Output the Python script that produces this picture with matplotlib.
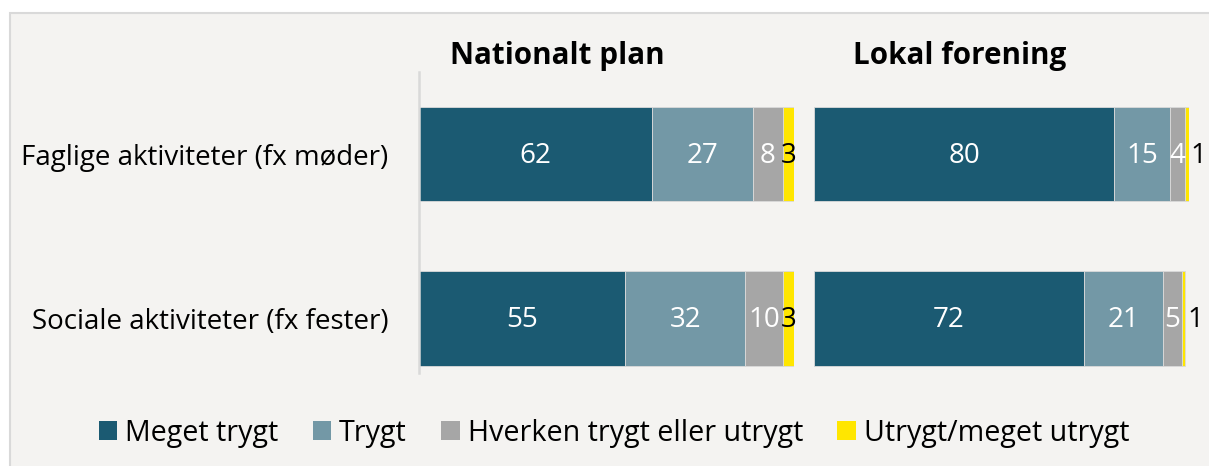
import matplotlib
matplotlib.use("Agg")
import matplotlib.pyplot as plt
from matplotlib.patches import Rectangle, Patch

plt.rcParams['font.family'] = ['Open Sans', 'DejaVu Sans']

categories = ["Faglige aktiviteter (fx møder)", "Sociale aktiviteter (fx fester)"]
series_names = ["Meget trygt", "Trygt", "Hverken trygt eller utrygt", "Utrygt/meget utrygt"]
panel_titles = ["Nationalt plan", "Lokal forening"]
# values[panel][series][category]
nationalt = [[62, 55], [27, 32], [8, 10], [3, 3]]
lokal = [[80, 72], [15, 21], [4, 5], [1, 1]]
panels = [nationalt, lokal]

colors = ["#1b5a72", "#7398a6", "#a6a6a6", "#ffe600"]
text_colors = ["white", "white", "white", "black"]

W, H = 1209, 466
fig = plt.figure(figsize=(W / 100, H / 100), dpi=100, facecolor="white")
bg = Rectangle((9.5 / W, -0.05), 1.1, 1 - 12.5 / H + 0.05, transform=fig.transFigure,
               facecolor="#f4f3f1", edgecolor="#d9d9d9", linewidth=1.5, zorder=-10)
fig.patches.append(bg)

FS = 20
axes_left = [419 / W, 814 / W]
bottom = 1 - 373 / H
height = (373 - 72) / H
width = 375 / W
title_x = [557 / W, 960 / W]

ypos = list(range(len(categories)))
for pi, (data, left) in enumerate(zip(panels, axes_left)):
    ax = fig.add_axes([left, bottom, width, height])
    ax.set_facecolor("none")
    cum = [0] * len(categories)
    for si, vals in enumerate(data):
        ax.barh(ypos, vals, left=cum, height=0.575, color=colors[si],
                edgecolor="#dadada", linewidth=0.6)
        for ci, v in enumerate(vals):
            if v <= 1:
                ax.text(cum[ci] + v + 0.5, ci + 0.01, str(v), ha="left", va="center",
                        color="black", fontsize=FS)
            else:
                ax.text(cum[ci] + v / 2, ci + 0.01, str(v), ha="center", va="center",
                        color=text_colors[si], fontsize=FS)
        cum = [c + v for c, v in zip(cum, vals)]
    ax.set_xlim(0, 100)
    ax.set_ylim(1.332, -0.5)
    ax.set_xticks([])
    for s in ["top", "right", "bottom"]:
        ax.spines[s].set_visible(False)
    if pi == 0:
        ax.spines["left"].set_color("#d9d9d9")
        ax.spines["left"].set_linewidth(1.8)
        ax.set_yticks(ypos)
        ax.set_yticklabels(categories, fontsize=FS)
        ax.tick_params(axis="y", length=0, pad=22)
    else:
        ax.spines["left"].set_visible(False)
        ax.set_yticks([])
    fig.text(title_x[pi], 1 - 56 / H, panel_titles[pi], ha="center", va="center",
             fontsize=21.3, fontweight="bold")

handles = [Patch(facecolor=c, edgecolor="none") for c in colors]
fig.legend(handles, series_names, loc="center", bbox_to_anchor=(614 / W, 1 - 433 / H),
           ncol=4, frameon=False, fontsize=20.6, handlelength=0.64, handleheight=0.64,
           handletextpad=0.28, columnspacing=1.2, borderaxespad=0)

fig.savefig("out.png", dpi=100, facecolor="white")
